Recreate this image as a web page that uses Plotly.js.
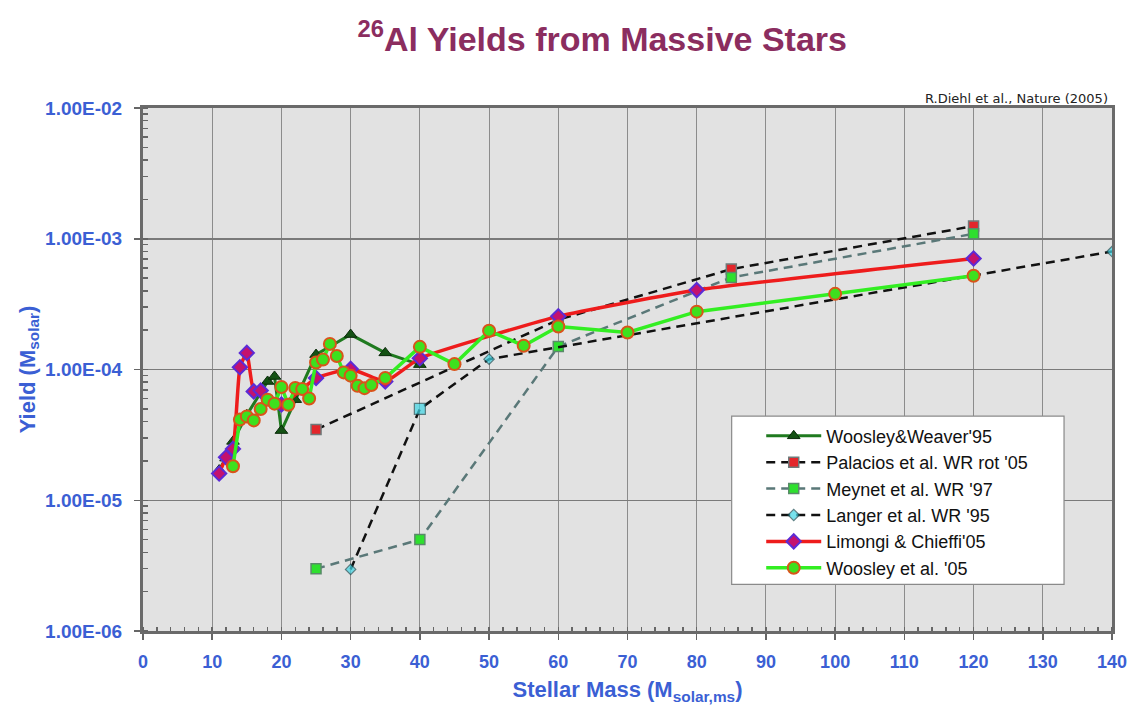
<!DOCTYPE html>
<html>
<head>
<meta charset="utf-8">
<script src="https://cdn.plot.ly/plotly-3.0.1.min.js"></script>
<style>
  html, body { margin: 0; padding: 0; background: #ffffff; }
  #chart { width: 1132px; height: 713px; }
</style>
</head>
<body>
<div id="chart"></div>
<script>
// ---------------- DATA ----------------
const wwMass   = [11, 12, 13, 15, 18, 19, 20, 22, 25, 30, 35, 40];
const wwYield  = [1.7e-5, 2.1e-5, 2.82e-5, 4.5e-5, 8.1e-5, 8.85e-5, 3.41e-5, 5.88e-5, 1.30e-4, 1.85e-4, 1.34e-4, 1.09e-4];

const palMass  = [25, 60, 85, 120];
const palYield = [3.47e-5, 2.4e-4, 5.86e-4, 1.25e-3];

const meyMass  = [25, 40, 60, 85, 120];
const meyYield = [2.99e-6, 5.0e-6, 1.50e-4, 5.06e-4, 1.09e-3];

const lanMass  = [30, 40, 50, 140];
const lanYield = [2.96e-6, 4.99e-5, 1.20e-4, 7.98e-4];

const lcMass   = [11, 12, 13, 14, 15, 16, 17, 20, 25, 30, 35, 40, 60, 80, 120];
const lcYield  = [1.60e-5, 2.13e-5, 2.47e-5, 1.04e-4, 1.34e-4, 6.8e-5, 6.9e-5, 5.4e-5, 8.6e-5, 1.01e-4, 8.1e-5, 1.22e-4, 2.55e-4, 4.05e-4, 7.06e-4];

const w05Mass  = [13, 14, 15, 16, 17, 18, 19, 20, 21, 22, 23, 24, 25, 26, 27, 28, 29, 30, 31, 32, 33, 35, 40, 45, 50, 55, 60, 70, 80, 100, 120];
const w05Yield = [1.82e-5, 4.14e-5, 4.38e-5, 4.08e-5, 4.99e-5, 5.88e-5, 5.48e-5, 7.35e-5, 5.38e-5, 7.22e-5, 7.1e-5, 6.0e-5,
                  1.13e-4, 1.19e-4, 1.57e-4, 1.27e-4, 9.5e-5, 8.97e-5, 7.5e-5, 7.2e-5, 7.6e-5, 8.6e-5, 1.49e-4, 1.10e-4,
                  1.98e-4, 1.52e-4, 2.13e-4, 1.92e-4, 2.77e-4, 3.79e-4, 5.21e-4];

const seriesNames = ["Woosley&Weaver'95", "Palacios et al. WR rot '05", "Meynet et al. WR '97",
                     "Langer et al. WR '95", "Limongi & Chieffi'05", "Woosley et al. '05"];

const xTickVals = [0, 10, 20, 30, 40, 50, 60, 70, 80, 90, 100, 110, 120, 130, 140];
const yTickVals = [1e-6, 1e-5, 1e-4, 1e-3, 1e-2];
const yTickText = ["1.00E-06", "1.00E-05", "1.00E-04", "1.00E-03", "1.00E-02"];

// ---------------- TRACES ----------------
const traces = [
  {
    x: wwMass, y: wwYield, name: seriesNames[0], type: 'scatter', mode: 'lines+markers',
    line: { color: '#1f7a1f', width: 3 },
    marker: { symbol: 'triangle-up', size: 11, color: '#145214', line: { color: '#0a2a0a', width: 1 } }
  },
  {
    x: palMass, y: palYield, name: seriesNames[1], type: 'scatter', mode: 'lines+markers',
    line: { color: '#111111', width: 2.5, dash: '9px,6px' },
    marker: { symbol: 'square', size: 10, color: '#e3262b', line: { color: '#6f7a7a', width: 1.5 } }
  },
  {
    x: meyMass, y: meyYield, name: seriesNames[2], type: 'scatter', mode: 'lines+markers',
    line: { color: '#5a7878', width: 2.5, dash: '9px,6px' },
    marker: { symbol: 'square', size: 10, color: '#2ee02e', line: { color: '#5a8a6a', width: 1.5 } }
  },
  {
    x: lanMass, y: lanYield, name: seriesNames[3], type: 'scatter', mode: 'lines+markers',
    line: { color: '#111111', width: 2.5, dash: '9px,6px' },
    marker: { symbol: ['diamond', 'square', 'diamond', 'diamond'], size: [8, 11, 8, 8],
              color: '#3fd6e6', line: { color: '#1f4f55', width: 1.2 } }
  },
  {
    x: lcMass, y: lcYield, name: seriesNames[4], type: 'scatter', mode: 'lines+markers',
    line: { color: '#ee1c1c', width: 3.5, shape: 'spline', smoothing: 0.4 },
    marker: { symbol: 'diamond', size: 11, color: '#c4126e', line: { color: '#5b2bd6', width: 2 } }
  },
  {
    x: w05Mass, y: w05Yield, name: seriesNames[5], type: 'scatter', mode: 'lines+markers',
    line: { color: '#33ee22', width: 3.5 },
    marker: { symbol: 'circle', size: 12, color: '#3ee01e', line: { color: '#d9541a', width: 2 } }
  }
];

// ---------------- LAYOUT ----------------
const blue = '#3b5fd4';
const layout = {
  width: 1132, height: 713,
  margin: { l: 143, r: 20, t: 108, b: 82 },
  paper_bgcolor: '#ffffff',
  plot_bgcolor: '#e2e2e2',
  showlegend: true,
  title: {
    text: '<sup>26</sup>Al Yields from Massive Stars',
    font: { family: 'Liberation Sans Narrow, Arial Narrow, Liberation Sans, Arial, sans-serif', size: 34, color: '#8b2d5f', weight: 'bold' },
    xref: 'container', x: 0.532, xanchor: 'center',
    yref: 'container', y: 0.945, yanchor: 'middle'
  },
  xaxis: {
    type: 'linear', range: [0, 140],
    tickmode: 'array', tickvals: xTickVals,
    ticks: 'outside', ticklen: 6, tickcolor: '#666', tickwidth: 1.5,
    tickfont: { family: 'Liberation Sans, Arial, sans-serif', size: 18, color: blue, weight: 'bold' },
    ticklabelstandoff: 6,
    showgrid: true, gridcolor: '#8c8c8c', gridwidth: 1,
    zeroline: false,
    showline: true, linecolor: '#6a6a6a', linewidth: 3, mirror: true,
    minor: { dtick: 2, ticks: 'inside', ticklen: 4, tickcolor: '#666', showgrid: false },
    title: {
      text: 'Stellar Mass (M<sub>solar,ms</sub>)',
      font: { family: 'Liberation Sans, Arial, sans-serif', size: 22, color: blue, weight: 'bold' },
      standoff: 12
    }
  },
  yaxis: {
    type: 'log', range: [-6, -2],
    tickmode: 'array', tickvals: yTickVals, ticktext: yTickText,
    ticks: 'outside', ticklen: 6, tickcolor: '#666', tickwidth: 1.5,
    tickfont: { family: 'Liberation Sans, Arial, sans-serif', size: 19, color: blue, weight: 'bold' },
    ticklabelstandoff: 8,
    showgrid: true, gridcolor: '#7a7a7a', gridwidth: 1.5,
    zeroline: false,
    showline: true, linecolor: '#6a6a6a', linewidth: 3, mirror: true,
    minor: { dtick: 'D1', ticks: 'inside', ticklen: 5, tickcolor: '#666', showgrid: false },
    title: {
      text: 'Yield (M<sub>solar</sub>)',
      font: { family: 'Liberation Sans, Arial, sans-serif', size: 22, color: blue, weight: 'bold' },
      standoff: 4
    }
  },
  legend: {
    x: 0.638, xanchor: 'left', y: 0.408, yanchor: 'top',
    bgcolor: 'rgba(0,0,0,0)', borderwidth: 0,
    font: { family: 'Liberation Sans, Arial, sans-serif', size: 18, color: '#111' },
    itemwidth: 55, tracegroupgap: 0
  },
  shapes: [
    { type: 'rect', xref: 'paper', yref: 'paper', x0: 0.6075, x1: 0.9505, y0: 0.089, y1: 0.411,
      fillcolor: '#ffffff', line: { color: '#8a8a8a', width: 1.2 }, layer: 'above' }
  ],
  annotations: [
    { text: 'R.Diehl et al., Nature (2005)', xref: 'paper', yref: 'paper', x: 0.998, y: 1.0,
      xanchor: 'right', yanchor: 'bottom', showarrow: false,
      font: { family: 'DejaVu Sans, sans-serif', size: 13, color: '#222' } }
  ]
};

Plotly.newPlot('chart', traces, layout, { staticPlot: true, displayModeBar: false });
</script>
</body>
</html>
